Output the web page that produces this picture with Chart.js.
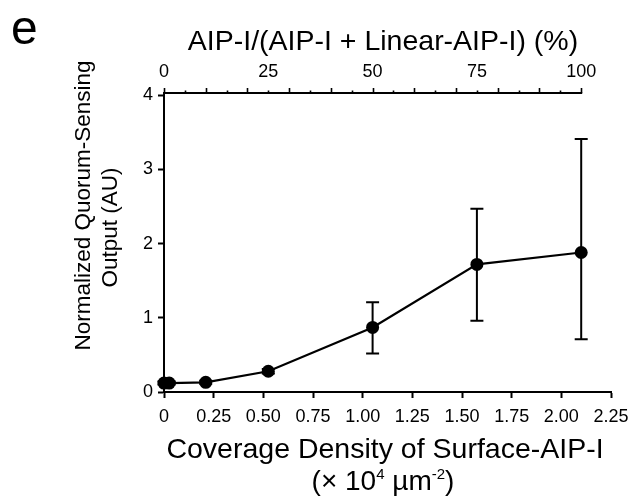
<!DOCTYPE html>
<html><head><meta charset="utf-8">
<script src="https://cdn.jsdelivr.net/npm/chart.js@4.4.0/dist/chart.umd.min.js"></script>
<style>html,body{margin:0;padding:0;background:#fff}canvas{display:block}</style>
</head><body>
<canvas id="c" width="639" height="499"></canvas>
<script>
// ---- data ----
const densityX   = [0, 0.026, 0.21, 0.525, 1.05, 1.575, 2.1];
const outputY    = [0.12, 0.12, 0.13, 0.28, 0.87, 1.72, 1.88];
const errLow     = [0.10, 0.10, 0.11, 0.25, 0.52, 0.96, 0.71];
const errHigh    = [0.14, 0.14, 0.15, 0.31, 1.21, 2.47, 3.41];
const bottomTickValues = [0, 0.25, 0.5, 0.75, 1, 1.25, 1.5, 1.75, 2, 2.25];
const bottomTickLabels = ['0', '0.25', '0.50', '0.75', '1.00', '1.25', '1.50', '1.75', '2.00', '2.25'];
const yTickValues = [0, 1, 2, 3, 4];
const topTickValues = [0, 25, 50, 75, 100];
const topTickLabels = ['0', '25', '50', '75', '100'];
const topMinorTicks = [0,5,10,15,20,25,30,35,40,45,50,55,60,65,70,75,80,85,90,95,100];
const topAxisMax = 107.142857; // 100 % corresponds to 2.1 on the bottom axis (max 2.25)

const FONT = '"Liberation Sans", Arial, sans-serif';

const extras = {
  id: 'extras',
  beforeDatasetsDraw(chart) {
    const ctx = chart.ctx, xs = chart.scales.x, ys = chart.scales.y;
    ctx.save();
    ctx.strokeStyle = '#000'; ctx.lineWidth = 2;
    for (let i = 0; i < densityX.length; i++) {
      const px = xs.getPixelForValue(densityX[i]);
      const pl = ys.getPixelForValue(errLow[i]);
      const ph = ys.getPixelForValue(errHigh[i]);
      ctx.beginPath();
      ctx.moveTo(px, pl); ctx.lineTo(px, ph);
      ctx.moveTo(px - 6.5, pl); ctx.lineTo(px + 6.5, pl);
      ctx.moveTo(px - 6.5, ph); ctx.lineTo(px + 6.5, ph);
      ctx.stroke();
    }
    ctx.restore();
  },
  afterDraw(chart) {
    const ctx = chart.ctx, x2 = chart.scales.x2, area = chart.chartArea;
    ctx.save();
    // top axis line + ticks
    ctx.strokeStyle = '#000'; ctx.lineWidth = 2;
    const top = area.top;
    ctx.beginPath();
    ctx.moveTo(x2.getPixelForValue(0) - 1, top);
    ctx.lineTo(x2.getPixelForValue(100) + 1, top);
    ctx.stroke();
    ctx.lineWidth = 1.6;
    topMinorTicks.forEach(v => {
      const px = Math.round(x2.getPixelForValue(v)) + 0.5;
      const len = (v % 10 === 0) ? 5 : 2.5;
      ctx.beginPath(); ctx.moveTo(px, top); ctx.lineTo(px, top - len); ctx.stroke();
    });
    ctx.fillStyle = '#000';
    // panel letter
    ctx.font = '48px ' + FONT; ctx.textAlign = 'left'; ctx.textBaseline = 'alphabetic';
    ctx.fillText('e', 11, 44);
    // top title
    ctx.font = '28.5px ' + FONT; ctx.textAlign = 'center';
    ctx.fillText('AIP-I/(AIP-I + Linear-AIP-I) (%)', 383, 50);
    // bottom title
    ctx.fillText('Coverage Density of Surface-AIP-I', 385, 458);
    // second line with superscripts
    const parts = [
      {t: '(\u00d7 10', s: 28, dy: 0},
      {t: '4', s: 15, dy: -11},
      {t: ' \u00b5m', s: 28, dy: 0},
      {t: '-2', s: 15, dy: -11},
      {t: ')', s: 28, dy: 0}
    ];
    let total = 0;
    parts.forEach(p => { ctx.font = p.s + 'px ' + FONT; p.w = ctx.measureText(p.t).width; total += p.w; });
    let cx = 383 - total / 2;
    ctx.textAlign = 'left';
    parts.forEach(p => { ctx.font = p.s + 'px ' + FONT; ctx.fillText(p.t, cx, 490 + p.dy); cx += p.w; });
    // y title (two lines, rotated)
    ctx.font = '22.5px ' + FONT; ctx.textAlign = 'center';
    ctx.save(); ctx.translate(89.5, 205.5); ctx.rotate(-Math.PI / 2);
    ctx.fillText('Normalized Quorum-Sensing', 0, 0); ctx.restore();
    ctx.save(); ctx.translate(117, 227.5); ctx.rotate(-Math.PI / 2);
    ctx.fillText('Output (AU)', 0, 0); ctx.restore();
    ctx.restore();
  }
};

new Chart(document.getElementById('c'), {
  type: 'scatter',
  data: {
    datasets: [{
      data: densityX.map((x, i) => ({x: x, y: outputY[i]})),
      showLine: true,
      borderColor: '#000',
      borderWidth: 2.2,
      backgroundColor: '#000',
      pointBackgroundColor: '#000',
      pointBorderColor: '#000',
      pointRadius: 6.5,
      pointBorderWidth: 0,
      tension: 0,
      clip: false
    }]
  },
  plugins: [extras],
  options: {
    responsive: false,
    animation: false,
    devicePixelRatio: 1,
    layout: {padding: {left: 0, right: 28, top: 0, bottom: 0}},
    plugins: {legend: {display: false}, tooltip: {enabled: false}, title: {display: false}},
    scales: {
      x: {
        type: 'linear', position: 'bottom', min: 0, max: 2.25,
        afterBuildTicks: s => { s.ticks = bottomTickValues.map(v => ({value: v})); },
        afterFit: s => { s.height = 107; },
        ticks: {
          color: '#000', font: {family: FONT, size: 18}, padding: 8, maxRotation: 0, autoSkip: false,
          callback: (v) => { const i = bottomTickValues.indexOf(v); return i >= 0 ? bottomTickLabels[i] : ''; }
        },
        grid: {display: true, drawOnChartArea: false, drawTicks: true, tickLength: 6, tickWidth: 2, tickColor: '#000'},
        border: {display: true, color: '#000', width: 2}
      },
      x2: {
        type: 'linear', position: 'top', min: 0, max: topAxisMax,
        afterBuildTicks: s => { s.ticks = topTickValues.map(v => ({value: v})); },
        afterFit: s => { s.height = 93; },
        ticks: {
          color: '#000', font: {family: FONT, size: 18}, padding: 2, maxRotation: 0, autoSkip: false,
          callback: (v) => { const i = topTickValues.indexOf(v); return i >= 0 ? topTickLabels[i] : ''; }
        },
        grid: {display: false},
        border: {display: false}
      },
      y: {
        type: 'linear', position: 'left', min: 0, max: 4.03,
        afterBuildTicks: s => { s.ticks = yTickValues.map(v => ({value: v})); },
        afterFit: s => { s.width = 164; },
        ticks: {color: '#000', font: {family: FONT, size: 18}, padding: 5, autoSkip: false,
          callback: v => String(v)},
        grid: {display: true, drawOnChartArea: false, drawTicks: true, tickLength: 6, tickWidth: 2, tickColor: '#000'},
        border: {display: true, color: '#000', width: 2}
      }
    }
  }
});
</script>
</body></html>
